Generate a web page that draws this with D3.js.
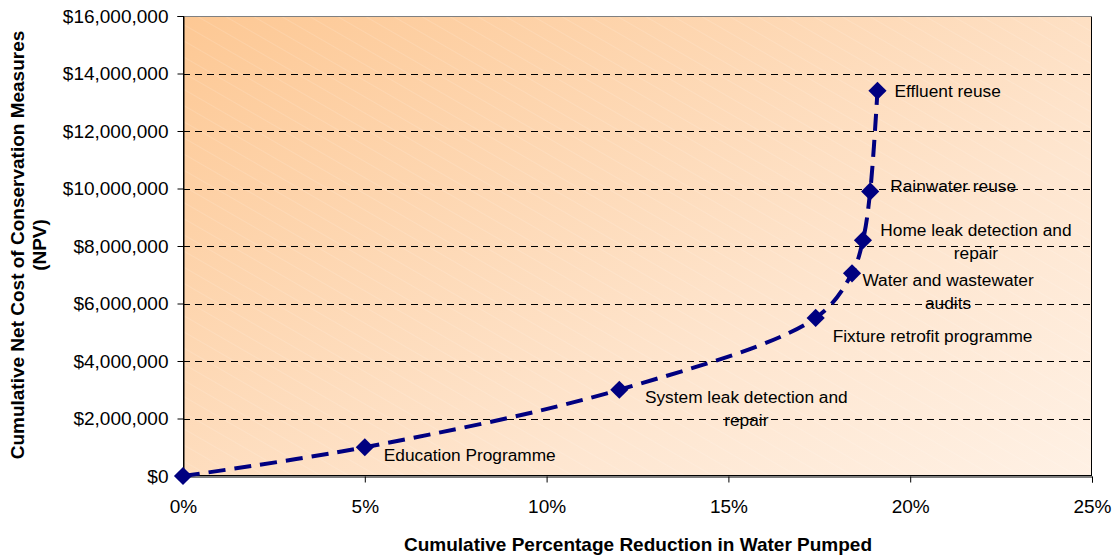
<!DOCTYPE html>
<html>
<head>
<meta charset="utf-8">
<script src="https://cdn.jsdelivr.net/npm/d3@7"></script>
<style>
  html, body { margin: 0; padding: 0; background: #ffffff; }
  svg text { font-family: Arial, "Liberation Sans", sans-serif; fill: #000; }
</style>
</head>
<body>
<svg id="chart" width="1117" height="556"></svg>
<script>
// ---- Data ----
const measures = ["", "Education Programme", "System leak detection and\nrepair", "Fixture retrofit programme",
  "Water and wastewater\naudits", "Home leak detection and\nrepair", "Rainwater reuse", "Effluent reuse"];
const reductionPct = [0, 5.0, 12.0, 17.4, 18.4, 18.7, 18.9, 19.1];
const cumulativeCost = [0, 1000000, 3000000, 5500000, 7050000, 8200000, 9900000, 13400000];
const xTicks = [0, 5, 10, 15, 20, 25];
const yTicks = [0, 2000000, 4000000, 6000000, 8000000, 10000000, 12000000, 14000000, 16000000];

// label placement (layout, not data): dx, dy from the marker, text anchor
const labelLayout = [
  null,
  {dx: 19, dy: 9, anchor: "start"},
  {dx: 127, dy: 8, anchor: "middle"},
  {dx: 17, dy: 19, anchor: "start"},
  {dx: 96, dy: 8, anchor: "middle"},
  {dx: 113, dy: -9, anchor: "middle"},
  {dx: 20, dy: -4, anchor: "start"},
  {dx: 17, dy: 1, anchor: "start"}
];

const svg = d3.select("#chart");
const margin = {left: 183, right: 25, top: 16, bottom: 80};
const W = 1117, H = 556;
const x = d3.scaleLinear().domain([0, 25]).range([margin.left, W - margin.right]);
const y = d3.scaleLinear().domain([0, 16000000]).range([H - margin.bottom, margin.top]);

const defs = svg.append("defs");
const grad = defs.append("linearGradient").attr("id", "bg")
  .attr("gradientUnits", "userSpaceOnUse")
  .attr("x1", x(0)).attr("y1", y(16000000))
  .attr("x2", x(0) + 520).attr("y2", y(16000000) + 900);
grad.append("stop").attr("offset", "0%").attr("stop-color", "#fdc894");
grad.append("stop").attr("offset", "55%").attr("stop-color", "#fee6d0");
grad.append("stop").attr("offset", "100%").attr("stop-color", "#fff8f2");

const pat = defs.append("pattern").attr("id", "stripes")
  .attr("patternUnits", "userSpaceOnUse").attr("width", 14).attr("height", 14)
  .attr("patternTransform", "rotate(-60)");
pat.append("line").attr("x1", 0).attr("y1", 0).attr("x2", 0).attr("y2", 14)
  .attr("stroke", "#ffffff").attr("stroke-width", 1).attr("stroke-opacity", 0.25);

const pw = x(25) - x(0), ph = y(0) - y(16000000);
svg.append("rect").attr("x", x(0)).attr("y", y(16000000)).attr("width", pw).attr("height", ph)
  .attr("fill", "url(#bg)");
svg.append("rect").attr("x", x(0)).attr("y", y(16000000)).attr("width", pw).attr("height", ph)
  .attr("fill", "url(#stripes)");

// gridlines
svg.append("g").selectAll("line").data(yTicks.filter(d => d > 0 && d < 16000000)).join("line")
  .attr("x1", x(0)).attr("x2", x(25))
  .attr("y1", d => Math.round(y(d)) + 0.5).attr("y2", d => Math.round(y(d)) + 0.5)
  .attr("stroke", "#000").attr("stroke-width", 1).attr("stroke-dasharray", "7,5");

// plot border
svg.append("rect").attr("x", x(0) + 0.5).attr("y", y(16000000) + 0.5)
  .attr("width", pw - 1).attr("height", ph - 1)
  .attr("fill", "none").attr("stroke", "#000").attr("stroke-width", 1);
svg.append("line").attr("x1", x(0)).attr("x2", x(25)).attr("y1", y(16000000) + 0.5).attr("y2", y(16000000) + 0.5)
  .attr("stroke", "#808080");

// axes
const fmt = d => "$" + d3.format(",")(d);
const yAxis = svg.append("g").attr("transform", `translate(${x(0) + 0.5},0)`)
  .call(d3.axisLeft(y).tickValues(yTicks).tickFormat(fmt).tickSize(6).tickPadding(9));
const xAxis = svg.append("g").attr("transform", `translate(0,${y(0) + 0.5})`)
  .call(d3.axisBottom(x).tickValues(xTicks).tickFormat(d => d + "%").tickSize(6).tickPadding(17));
[yAxis, xAxis].forEach(a => {
  a.select(".domain").attr("stroke", "#000");
  a.selectAll(".tick line").attr("stroke", "#000");
  a.selectAll("text").attr("font-size", 19).attr("font-family", "Arial, 'Liberation Sans', sans-serif").attr("fill", "#000");
});

// axis titles
svg.append("text").attr("x", 638).attr("y", 551).attr("text-anchor", "middle")
  .attr("font-size", 19).attr("font-weight", "bold")
  .text("Cumulative Percentage Reduction in Water Pumped");
const yt = svg.append("text").attr("transform", "translate(24,245) rotate(-90)")
  .attr("text-anchor", "middle").attr("font-size", 19).attr("font-weight", "bold");
yt.append("tspan").attr("x", 0).attr("dy", 0).text("Cumulative Net Cost of Conservation Measures");
yt.append("tspan").attr("x", 0).attr("dy", 22).text("(NPV)");

// line
const pts = reductionPct.map((p, i) => [p, cumulativeCost[i]]);
const line = d3.line().x(d => x(d[0])).y(d => y(d[1])).curve(d3.curveCatmullRom.alpha(0.5));
svg.append("path").datum(pts).attr("d", line)
  .attr("fill", "none").attr("stroke", "#000080").attr("stroke-width", 4)
  .attr("stroke-dasharray", "17,9");

// markers
svg.append("g").selectAll("path").data(pts).join("path")
  .attr("transform", d => `translate(${x(d[0])},${y(d[1])})`)
  .attr("d", d3.symbol().type(d3.symbolDiamond2).size(210))
  .attr("fill", "#000080");

// labels
const lg = svg.append("g");
pts.forEach((d, i) => {
  const L = labelLayout[i];
  if (!L || !measures[i]) return;
  const lines = measures[i].split("\n");
  const t = lg.append("text").attr("font-size", 17.3).attr("text-anchor", L.anchor)
    .attr("dominant-baseline", "middle");
  lines.forEach((s, k) => {
    t.append("tspan").attr("x", x(d[0]) + L.dx).attr("y", y(d[1]) + L.dy + k * 23).text(s);
  });
});
</script>
</body>
</html>
